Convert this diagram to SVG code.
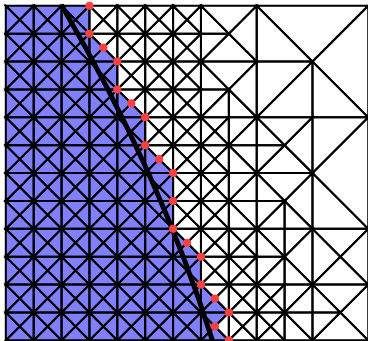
<svg xmlns="http://www.w3.org/2000/svg" width="368" height="341" viewBox="0 0 368 341">
<defs>
<style>
polygon{fill:none;stroke:#000;stroke-width:0.072;stroke-linejoin:miter;stroke-miterlimit:4}
.dot{fill:#ff4040}
</style>
<g id="f"><polygon points="0,0 1,0 .5,.5"/><polygon points="1,0 1,1 .5,.5"/><polygon points="0,1 1,1 .5,.5"/><polygon points="0,0 0,1 .5,.5"/></g>
<g id="c"><use href="#f"/><use href="#f" y="1"/><use href="#f" y="2"/><use href="#f" y="3"/></g>
</defs>
<rect width="368" height="341" fill="#fff"/>
<g transform="translate(5.8 5.8) scale(27.88)">
<g id="inside">
<path fill="#8080ff" d="M0,0 H3 V1 L3.5,1.5 4,2 V3 L4.5,3.5 5,4 V5 L5.5,5.5 6,6 V8 L6.5,8.5 7,9 V10 L7.5,10.5 8,11 7.5,11.5 8,12 V12.3 H0 Z"/>
</g>
<g id="fine-mesh">
<use href="#c" x="0" y="0"/><use href="#c" x="0" y="4"/><use href="#c" x="0" y="8"/>
<use href="#c" x="1" y="0"/><use href="#c" x="1" y="4"/><use href="#c" x="1" y="8"/>
<use href="#c" x="2" y="0"/><use href="#c" x="2" y="4"/><use href="#c" x="2" y="8"/>
<use href="#c" x="3" y="0"/><use href="#c" x="3" y="4"/><use href="#c" x="3" y="8"/>
<use href="#c" x="4" y="0"/><use href="#c" x="4" y="4"/><use href="#c" x="4" y="8"/>
<use href="#c" x="5" y="0"/><use href="#c" x="5" y="4"/><use href="#c" x="5" y="8"/>
<use href="#c" x="6" y="0"/><use href="#c" x="6" y="4"/><use href="#c" x="6" y="8"/>
<use href="#c" x="7" y="4"/><use href="#c" x="7" y="8"/>
<use href="#c" x="8" y="8"/>
<use href="#f" x="9" y="10"/><use href="#f" x="9" y="11"/>
</g>
<g id="coarse-mesh">
<polygon points="7,0 9,0 8,1"/>
<polygon points="9,0 9,2 8,1"/>
<polygon points="7,2 9,2 8,1"/>
<polygon points="7,0 7,1 8,1"/>
<polygon points="7,1 7,2 8,1"/>
<polygon points="7,2 9,2 8,3"/>
<polygon points="9,2 9,4 8,3"/>
<polygon points="7,2 7,3 8,3"/>
<polygon points="7,3 7,4 8,3"/>
<polygon points="7,4 8,4 8,3"/>
<polygon points="8,4 9,4 8,3"/>
<polygon points="9,0 13,0 11,2"/>
<polygon points="13,0 13,4 11,2"/>
<polygon points="9,0 9,2 11,2"/>
<polygon points="9,2 9,4 11,2"/>
<polygon points="9,4 11,4 11,2"/>
<polygon points="11,4 13,4 11,2"/>
<polygon points="8,4 9,4 8,5"/>
<polygon points="9,4 9,5 8,5"/>
<polygon points="9,5 9,6 8,5"/>
<polygon points="8,6 9,6 8,5"/>
<polygon points="8,6 9,6 8,7"/>
<polygon points="9,6 9,7 8,7"/>
<polygon points="9,7 9,8 8,7"/>
<polygon points="8,8 9,8 8,7"/>
<polygon points="13,4 13,8 11,6"/>
<polygon points="11,4 13,4 11,6"/>
<polygon points="9,4 11,4 10,5"/>
<polygon points="11,4 11,6 10,5"/>
<polygon points="9,4 9,5 10,5"/>
<polygon points="9,5 9,6 10,5"/>
<polygon points="9,6 11,6 10,5"/>
<polygon points="9,6 9,7 10,7"/>
<polygon points="9,7 9,8 10,7"/>
<polygon points="9,6 11,6 10,7"/>
<polygon points="9,8 10,8 10,7"/>
<polygon points="10,8 11,8 10,7"/>
<polygon points="11,6 11,8 10,7"/>
<polygon points="11,8 13,8 11,6"/>
<polygon points="9,8 10,8 10,9"/>
<polygon points="10,8 11,8 10,9"/>
<polygon points="9,8 9,9 10,9"/>
<polygon points="9,9 9,10 10,9"/>
<polygon points="9,10 10,10 10,9"/>
<polygon points="10,10 11,10 10,9"/>
<polygon points="11,8 11,10 10,9"/>
<polygon points="10,10 11,10 10,11"/>
<polygon points="11,10 11,11 10,11"/>
<polygon points="11,11 11,12 10,11"/>
<polygon points="10,12 11,12 10,11"/>
<polygon points="11,10 11,11 12,11"/>
<polygon points="11,11 11,12 12,11"/>
<polygon points="11,10 13,10 12,11"/>
<polygon points="13,10 13,12 12,11"/>
<polygon points="11,12 13,12 12,11"/>
<polygon points="11,8 13,8 12,9"/>
<polygon points="11,8 11,10 12,9"/>
<polygon points="13,8 13,10 12,9"/>
<polygon points="11,10 13,10 12,9"/>
</g>
</g>
<g id="interface">
<path d="M61.4,5 Q159.8,173 212.6,341" fill="none" stroke="#000" stroke-width="5"/>
</g>
<g id="markers" transform="translate(5.8 5.8) scale(27.88)">
<circle class="dot" cx="3" cy="0" r="0.145"/>
<circle class="dot" cx="3" cy="1" r="0.145"/>
<circle class="dot" cx="3.5" cy="1.5" r="0.145"/>
<circle class="dot" cx="4" cy="2" r="0.145"/>
<circle class="dot" cx="4" cy="3" r="0.145"/>
<circle class="dot" cx="4.5" cy="3.5" r="0.145"/>
<circle class="dot" cx="5" cy="4" r="0.145"/>
<circle class="dot" cx="5" cy="5" r="0.145"/>
<circle class="dot" cx="5.5" cy="5.5" r="0.145"/>
<circle class="dot" cx="6" cy="6" r="0.145"/>
<circle class="dot" cx="6" cy="7" r="0.145"/>
<circle class="dot" cx="6" cy="8" r="0.145"/>
<circle class="dot" cx="6.5" cy="8.5" r="0.145"/>
<circle class="dot" cx="7" cy="9" r="0.145"/>
<circle class="dot" cx="7" cy="10" r="0.145"/>
<circle class="dot" cx="7.5" cy="10.5" r="0.145"/>
<circle class="dot" cx="8" cy="11" r="0.145"/>
<circle class="dot" cx="7.5" cy="11.5" r="0.145"/>
<circle class="dot" cx="8" cy="12" r="0.145"/>
</g>
</svg>
